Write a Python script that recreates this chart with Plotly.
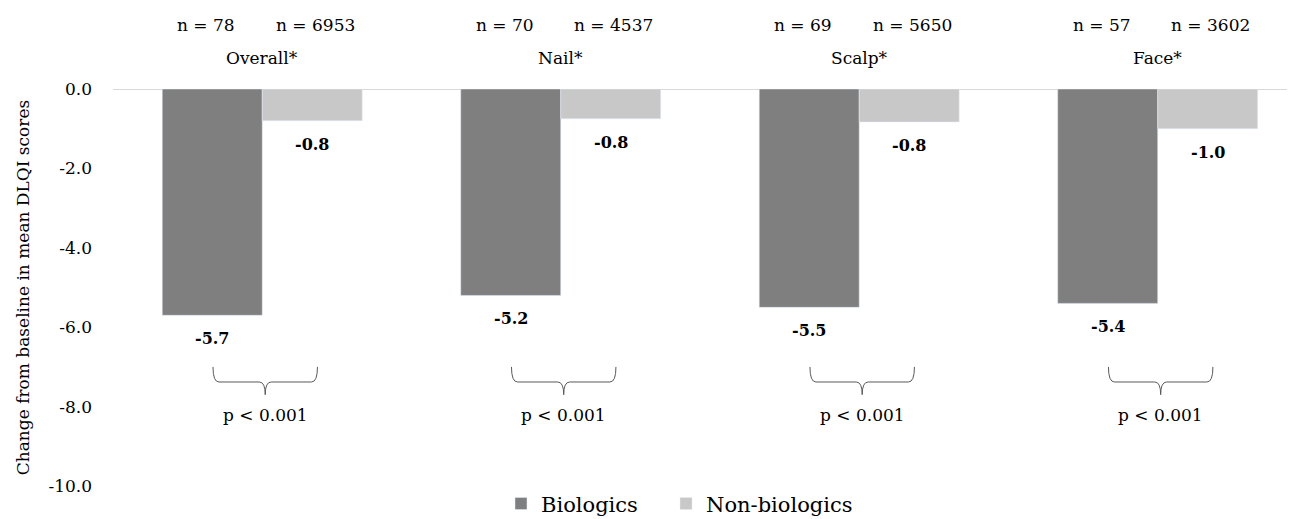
import plotly.graph_objects as go

categories = ["Overall*", "Nail*", "Scalp*", "Face*"]
biologics = [-5.7, -5.2, -5.5, -5.4]
non_biologics = [-0.8, -0.75, -0.83, -1.0]
n_bio = [78, 70, 69, 57]
n_nonbio = [6953, 4537, 5650, 3602]
p_labels = ["p < 0.001", "p < 0.001", "p < 0.001", "p < 0.001"]
y_tickvals = [0, -2, -4, -6, -8, -10]
y_ticktext = ["0.0", "-2.0", "-4.0", "-6.0", "-8.0", "-10.0"]

FONT = "DejaVu Serif"
BIO_COLOR = "#7f7f7f"
NON_COLOR = "#c8c8c8"
BAR_W = 0.335
OFF = 8
PLOT_H = 397
PLOT_W = 1182
PLOT_L = 113

xs = list(range(len(categories)))

fig = go.Figure()
fig.add_trace(go.Bar(x=xs, y=biologics, name="Biologics", marker_color=BIO_COLOR,
                     hoverinfo="skip", legend="legend"))
fig.add_trace(go.Bar(x=xs, y=non_biologics, name="Non-biologics", marker_color=NON_COLOR,
                     hoverinfo="skip", legend="legend2"))

txt = dict(family=FONT, size=17, color="black")
bold = dict(family=FONT, size=16, color="black", weight="bold")

annotations = []
shapes = []
for i, cat in enumerate(categories):
    xb = i - BAR_W / 2
    xn = i + BAR_W / 2
    annotations.append(dict(x=xb, y=biologics[i], text=f"{biologics[i]:.1f}",
                            showarrow=False, yanchor="top", yshift=-12, font=bold))
    annotations.append(dict(x=xn, y=non_biologics[i], text=f"{non_biologics[i]:.1f}",
                            showarrow=False, yanchor="top", yshift=-12, font=bold))
    annotations.append(dict(x=xb, y=1 + 64 / PLOT_H, yref="paper", yanchor="middle",
                            text=f"n = {n_bio[i]}", showarrow=False, xshift=-6, font=txt))
    annotations.append(dict(x=xn, y=1 + 64 / PLOT_H, yref="paper", yanchor="middle",
                            text=f"n = {n_nonbio[i]}", showarrow=False, xshift=3, font=txt))
    annotations.append(dict(x=i, y=1 + 31 / PLOT_H, yref="paper", yanchor="middle",
                            text=cat, showarrow=False, font=txt))
    annotations.append(dict(x=i + 0.01, y=-8.21, text=p_labels[i], showarrow=False,
                            font=txt))
    c = i + 0.01
    x0 = c - 0.175
    x1 = c + 0.175
    d = 0.02
    ytop, ymid, ytip = -7.0, -7.38, -7.7
    path = (f"M {x0},{ytop} Q {x0},{ymid} {x0+d},{ymid} L {c-d},{ymid} "
            f"Q {c},{ymid} {c},{ytip} Q {c},{ymid} {c+d},{ymid} "
            f"L {x1-d},{ymid} Q {x1},{ymid} {x1},{ytop}")
    shapes.append(dict(type="path", path=path, xref="x", yref="y",
                       line=dict(color="#595959", width=1)))

legend_font = dict(size=21, family=FONT, color="black")

fig.update_layout(
    width=1295 - OFF, height=519 - OFF,
    margin=dict(l=PLOT_L - OFF, r=0, t=89 - OFF, b=519 - 89 - PLOT_H,
                autoexpand=False),
    paper_bgcolor="white", plot_bgcolor="white",
    barmode="group", bargap=0.33, bargroupgap=0,
    font=txt,
    xaxis=dict(range=[-0.5, 3.46], showticklabels=False, showgrid=False,
               zeroline=False, showline=False, fixedrange=True),
    yaxis=dict(range=[-10, 0], tickvals=y_tickvals, ticktext=y_ticktext,
               showgrid=False, zeroline=True, zerolinecolor="#d9d9d9", zerolinewidth=1,
               showline=False, ticks="", ticklabelstandoff=20,
               tickfont=txt,
               title=dict(text="Change from baseline in mean DLQI scores",
                          font=txt, standoff=14)),
    showlegend=True,
    legend=dict(orientation="h", x=(501 - PLOT_L) / PLOT_W, xanchor="left",
                y=-0.045, yanchor="middle", font=legend_font,
                itemwidth=30, bgcolor="rgba(0,0,0,0)"),
    legend2=dict(orientation="h", x=(666 - PLOT_L) / PLOT_W, xanchor="left",
                 y=-0.045, yanchor="middle", font=legend_font,
                 itemwidth=30, bgcolor="rgba(0,0,0,0)"),
    annotations=annotations,
    shapes=shapes,
)

fig.write_html("out.html")
